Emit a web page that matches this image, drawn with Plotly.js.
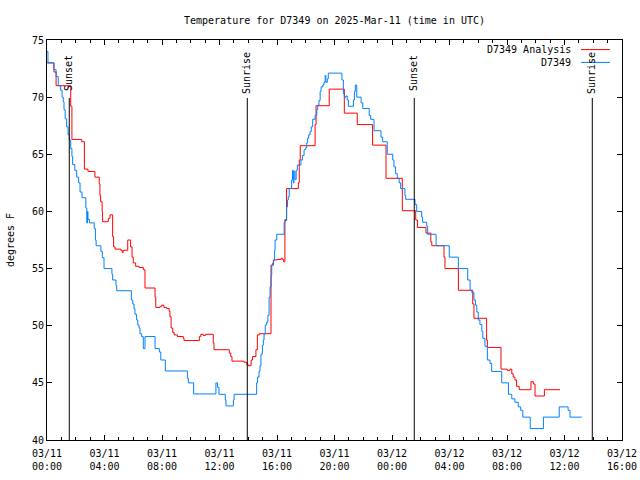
<!DOCTYPE html>
<html><head><meta charset="utf-8">
<script src="https://cdn.plot.ly/plotly-3.0.1.min.js"></script>
<style>html,body{margin:0;padding:0;background:#fff}#chart{width:640px;height:480px}</style>
</head><body><div id="chart"></div>
<script>
const analysisTimes = ["2025-03-11 00:00","2025-03-11 00:29","2025-03-11 00:38","2025-03-11 01:39","2025-03-11 01:44","2025-03-11 02:25","2025-03-11 02:36","2025-03-11 02:51","2025-03-11 03:20","2025-03-11 03:38","2025-03-11 03:41","2025-03-11 03:44","2025-03-11 03:50","2025-03-11 03:52","2025-03-11 04:16","2025-03-11 04:23","2025-03-11 04:34","2025-03-11 04:38","2025-03-11 04:44","2025-03-11 05:08","2025-03-11 05:14","2025-03-11 05:18","2025-03-11 05:37","2025-03-11 05:49","2025-03-11 05:55","2025-03-11 06:00","2025-03-11 06:10","2025-03-11 06:24","2025-03-11 06:42","2025-03-11 06:49","2025-03-11 07:31","2025-03-11 07:34","2025-03-11 07:52","2025-03-11 07:59","2025-03-11 08:08","2025-03-11 08:20","2025-03-11 08:30","2025-03-11 08:33","2025-03-11 08:38","2025-03-11 08:45","2025-03-11 08:51","2025-03-11 09:04","2025-03-11 09:29","2025-03-11 09:32","2025-03-11 10:36","2025-03-11 10:42","2025-03-11 10:52","2025-03-11 11:01","2025-03-11 11:34","2025-03-11 11:37","2025-03-11 12:41","2025-03-11 12:47","2025-03-11 12:52","2025-03-11 13:42","2025-03-11 13:54","2025-03-11 14:00","2025-03-11 14:12","2025-03-11 14:18","2025-03-11 14:32","2025-03-11 14:38","2025-03-11 14:46","2025-03-11 15:35","2025-03-11 15:45","2025-03-11 15:59","2025-03-11 16:17","2025-03-11 16:22","2025-03-11 16:28","2025-03-11 16:33","2025-03-11 16:40","2025-03-11 17:29","2025-03-11 17:33","2025-03-11 17:37","2025-03-11 18:39","2025-03-11 18:43","2025-03-11 19:38","2025-03-11 20:41","2025-03-11 21:35","2025-03-11 22:39","2025-03-11 23:35","2025-03-12 00:43","2025-03-12 01:39","2025-03-12 01:46","2025-03-12 02:22","2025-03-12 02:42","2025-03-12 02:46","2025-03-12 03:37","2025-03-12 03:41","2025-03-12 04:37","2025-03-12 05:37","2025-03-12 05:42","2025-03-12 06:35","2025-03-12 06:38","2025-03-12 07:35","2025-03-12 08:01","2025-03-12 08:13","2025-03-12 08:20","2025-03-12 08:26","2025-03-12 08:33","2025-03-12 08:40","2025-03-12 08:51","2025-03-12 09:40","2025-03-12 09:50","2025-03-12 09:57","2025-03-12 10:36","2025-03-12 11:41"];
const analysisTemps = [73.0,72.2,71.0,69.2,66.3,66.1,63.7,63.5,63.0,62.4,61.4,60.85,60.0,59.1,59.4,59.7,57.8,56.9,56.7,56.6,56.4,56.6,57.5,56.9,56.0,55.5,55.2,55.1,54.9,53.3,52.5,51.6,51.7,51.8,51.6,51.5,51.3,50.8,49.8,49.4,49.2,49.05,48.9,48.7,49.05,49.25,49.15,49.25,48.5,47.9,47.6,47.3,46.9,46.8,46.6,46.5,47.0,47.3,47.9,49.2,49.3,55.3,55.75,55.8,55.9,55.8,55.6,59.2,62.0,62.5,64.5,65.75,67.6,69.25,70.7,68.6,67.6,65.8,62.9,60.06,59.25,58.6,58.1,57.35,57.0,56.0,55.0,53.1,51.9,50.65,48.75,48.1,46.2,46.1,46.2,45.8,45.5,45.25,44.7,44.4,45.1,44.9,43.85,44.4,44.4];

const obsTimes = ["2025-03-11 00:00","2025-03-11 00:04","2025-03-11 00:29","2025-03-11 00:38","2025-03-11 00:47","2025-03-11 00:57","2025-03-11 01:03","2025-03-11 01:08","2025-03-11 01:11","2025-03-11 01:16","2025-03-11 01:22","2025-03-11 01:28","2025-03-11 01:33","2025-03-11 01:39","2025-03-11 01:44","2025-03-11 01:47","2025-03-11 01:56","2025-03-11 02:04","2025-03-11 02:12","2025-03-11 02:18","2025-03-11 02:26","2025-03-11 02:42","2025-03-11 02:46","2025-03-11 02:49","2025-03-11 02:51","2025-03-11 02:57","2025-03-11 03:17","2025-03-11 03:22","2025-03-11 03:25","2025-03-11 03:45","2025-03-11 03:51","2025-03-11 03:58","2025-03-11 04:31","2025-03-11 04:34","2025-03-11 04:48","2025-03-11 04:51","2025-03-11 05:52","2025-03-11 05:58","2025-03-11 06:03","2025-03-11 06:07","2025-03-11 06:14","2025-03-11 06:19","2025-03-11 06:24","2025-03-11 06:28","2025-03-11 06:35","2025-03-11 06:42","2025-03-11 06:49","2025-03-11 07:31","2025-03-11 07:49","2025-03-11 07:55","2025-03-11 08:14","2025-03-11 09:46","2025-03-11 09:50","2025-03-11 10:12","2025-03-11 11:45","2025-03-11 11:52","2025-03-11 11:58","2025-03-11 12:24","2025-03-11 12:27","2025-03-11 12:58","2025-03-11 13:01","2025-03-11 14:35","2025-03-11 14:39","2025-03-11 14:45","2025-03-11 14:49","2025-03-11 14:53","2025-03-11 14:59","2025-03-11 15:03","2025-03-11 15:06","2025-03-11 15:11","2025-03-11 15:17","2025-03-11 15:22","2025-03-11 15:27","2025-03-11 15:31","2025-03-11 15:35","2025-03-11 15:38","2025-03-11 15:42","2025-03-11 15:46","2025-03-11 15:50","2025-03-11 15:52","2025-03-11 15:59","2025-03-11 16:30","2025-03-11 16:33","2025-03-11 16:40","2025-03-11 16:44","2025-03-11 16:47","2025-03-11 16:51","2025-03-11 17:01","2025-03-11 17:05","2025-03-11 17:08","2025-03-11 17:11","2025-03-11 17:15","2025-03-11 17:20","2025-03-11 17:25","2025-03-11 17:40","2025-03-11 17:46","2025-03-11 17:53","2025-03-11 18:00","2025-03-11 18:04","2025-03-11 18:08","2025-03-11 18:12","2025-03-11 18:18","2025-03-11 18:23","2025-03-11 18:29","2025-03-11 18:39","2025-03-11 18:46","2025-03-11 18:50","2025-03-11 18:55","2025-03-11 19:00","2025-03-11 19:04","2025-03-11 19:11","2025-03-11 19:16","2025-03-11 19:21","2025-03-11 19:24","2025-03-11 19:30","2025-03-11 19:34","2025-03-11 20:31","2025-03-11 20:37","2025-03-11 20:41","2025-03-11 20:48","2025-03-11 20:53","2025-03-11 20:58","2025-03-11 21:19","2025-03-11 21:23","2025-03-11 21:27","2025-03-11 21:33","2025-03-11 21:51","2025-03-11 21:58","2025-03-11 22:25","2025-03-11 22:31","2025-03-11 22:45","2025-03-11 23:14","2025-03-11 23:21","2025-03-11 23:40","2025-03-12 00:03","2025-03-12 00:08","2025-03-12 00:15","2025-03-12 00:22","2025-03-12 00:30","2025-03-12 00:36","2025-03-12 00:54","2025-03-12 00:57","2025-03-12 01:36","2025-03-12 01:43","2025-03-12 02:04","2025-03-12 02:08","2025-03-12 02:25","2025-03-12 02:29","2025-03-12 03:04","2025-03-12 03:59","2025-03-12 04:37","2025-03-12 05:16","2025-03-12 05:26","2025-03-12 05:33","2025-03-12 05:42","2025-03-12 05:48","2025-03-12 05:54","2025-03-12 06:00","2025-03-12 06:07","2025-03-12 06:15","2025-03-12 06:19","2025-03-12 06:28","2025-03-12 06:38","2025-03-12 06:49","2025-03-12 06:56","2025-03-12 07:38","2025-03-12 08:06","2025-03-12 08:20","2025-03-12 08:33","2025-03-12 08:47","2025-03-12 08:57","2025-03-12 09:06","2025-03-12 09:37","2025-03-12 10:32","2025-03-12 11:38","2025-03-12 12:15","2025-03-12 12:23","2025-03-12 13:12"];
const obsTemps = [74.0,73.0,72.4,71.8,71.0,70.6,70.0,69.6,68.9,68.1,67.4,66.7,66.25,65.5,64.8,64.1,63.6,63.0,62.5,61.7,61.2,60.3,59.0,60.0,59.3,59.0,58.5,57.5,57.0,56.5,55.95,55.0,54.5,54.0,53.5,53.06,52.25,51.9,51.5,51.0,50.5,50.06,49.8,49.3,49.05,48.0,49.05,48.0,47.7,47.0,46.04,45.4,45.0,44.03,45.0,44.6,44.0,43.5,42.98,43.5,44.0,45.0,45.5,46.0,46.5,47.5,48.3,48.75,49.3,50.06,50.3,50.9,52.5,53.4,54.4,55.3,55.5,55.75,56.6,57.5,58.0,59.0,59.3,60.4,61.0,61.3,62.0,62.75,63.6,62.5,63.5,62.8,63.6,64.06,64.5,64.9,65.4,65.6,66.0,66.4,66.7,67.0,67.4,68.06,68.4,68.9,69.3,69.7,70.5,70.9,71.06,71.3,71.9,71.3,71.6,72.1,71.5,70.3,70.0,70.1,69.75,69.2,69.75,70.5,71.06,70.0,69.5,69.0,68.4,68.06,67.06,66.5,66.1,65.0,64.5,63.9,63.3,62.9,62.5,62.0,61.4,61.06,60.6,60.0,59.5,59.05,58.7,58.0,57.0,56.0,55.0,54.0,53.1,52.9,52.25,51.8,51.2,50.5,50.1,49.5,48.9,48.2,47.0,46.7,46.0,45.0,44.0,43.6,43.3,42.9,42.6,42.0,41.0,42.0,42.9,42.6,42.0,42.0];

const sunLabels = ["Sunset","Sunrise","Sunset","Sunrise"];
const sunTimes = ["2025-03-11 01:33","2025-03-11 13:56","2025-03-12 01:33","2025-03-12 13:56"];

const seriesNames = ["D7349 Analysis","D7349"];
const seriesColors = ["#ff0000","#0080ff"];

const FONT = {family: "DejaVu Sans Mono, monospace", size: 10, color: "#000"};

const traces = [
  {x: analysisTimes, y: analysisTemps, name: seriesNames[0], type: "scatter", mode: "lines",
   line: {color: seriesColors[0], width: 1, shape: "hv"}},
  {x: obsTimes, y: obsTemps, name: seriesNames[1], type: "scatter", mode: "lines",
   line: {color: seriesColors[1], width: 1, shape: "hv"}}
];

const shapes = [];
const annotations = [];
sunTimes.forEach((t, i) => {
  shapes.push({type: "line", xref: "x", yref: "paper", x0: t, x1: t, y0: 0, y1: 0.855,
    line: {color: "#000", width: 1}});
  annotations.push({xref: "x", yref: "paper", x: t, y: 0.918, text: sunLabels[i], textangle: -90,
    showarrow: false, xanchor: "center", yanchor: "middle", font: FONT});
});
const legY = [0.976, 0.944];
seriesNames.forEach((n, i) => {
  annotations.push({xref: "paper", yref: "paper", x: 0.9148, y: legY[i], text: n, showarrow: false,
    xanchor: "right", yanchor: "middle", font: FONT});
  shapes.push({type: "line", xref: "paper", yref: "paper", x0: 0.9287, x1: 0.979, y0: legY[i], y1: legY[i],
    line: {color: seriesColors[i], width: 1}});
});

const layout = {
  width: 640, height: 480,
  margin: {l: 47, r: 18, t: 40, b: 40},
  paper_bgcolor: "#fff", plot_bgcolor: "#fff",
  font: FONT,
  showlegend: false,
  title: {text: "Temperature for D7349 on 2025-Mar-11 (time in UTC)", font: FONT,
    xref: "paper", x: 0.5, xanchor: "center", y: 0.958, yanchor: "middle"},
  xaxis: {
    type: "date", range: ["2025-03-11 00:00", "2025-03-12 16:00"],
    tick0: "2025-03-11 00:00", dtick: 4 * 3600000, tickformat: "%m/%d<br>%H:%M",
    ticks: "inside", ticklen: 5, tickcolor: "#000", showgrid: false, zeroline: false,
    showline: true, linecolor: "#000", linewidth: 1, mirror: "ticks",
    ticklabelstandoff: 4,
    minor: {dtick: 3600000, ticks: "inside", ticklen: 3, tickcolor: "#000", showgrid: false},
    tickfont: FONT
  },
  yaxis: {
    range: [40, 75], dtick: 5, ticks: "inside", ticklen: 5, tickcolor: "#000",
    showgrid: false, zeroline: false, showline: true, linecolor: "#000", linewidth: 1, mirror: "ticks",
    tickfont: FONT, title: {text: "degrees F", font: FONT, standoff: 15}
  },
  shapes: shapes,
  annotations: annotations
};

Plotly.newPlot("chart", traces, layout, {staticPlot: true, displayModeBar: false});
</script>
</body></html>
